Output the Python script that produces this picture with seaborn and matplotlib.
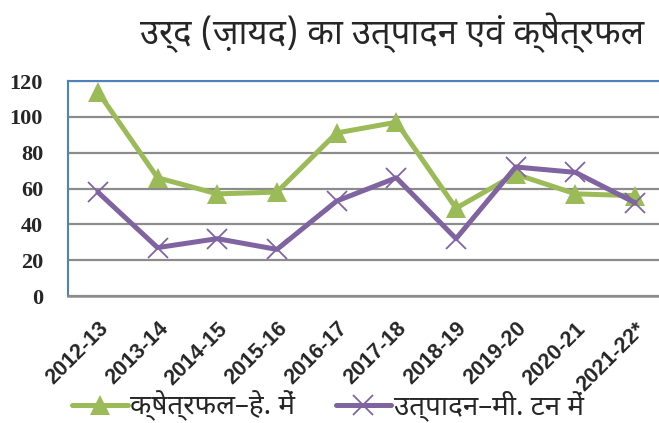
import matplotlib
matplotlib.use("Agg")
import matplotlib.pyplot as plt
from matplotlib import font_manager
from matplotlib.ft2font import FT2Font
from matplotlib.transforms import ScaledTranslation
import pandas as pd
import seaborn as sns

# values
YEARS = ["2012-13", "2013-14", "2014-15", "2015-16", "2016-17",
         "2017-18", "2018-19", "2019-20", "2020-21", "2021-22*"]
AREA = [114, 66, 57, 58, 91, 97, 49, 68, 57, 56]   # क्षेत्रफल (हे.)
PROD = [58, 27, 32, 26, 53, 66, 32, 72, 69, 52]    # उत्पादन (मी. टन)
Y_TICKS = [0, 20, 40, 60, 80, 100, 120]

TITLE = "उर्द (ज़ायद) का उत्पादन एवं क्षेत्रफल"
AREA_LABEL = "क्षेत्रफल–हे. में"
PROD_LABEL = "उत्पादन–मी. टन में"

GREEN = "#9BBB59"
PURPLE = "#8064A2"
BLUE = "#4F81BD"
GRID = "#8C8C8C"

W, H = 659, 423


def pick_devanagari_font():
    found = []
    for f in font_manager.fontManager.ttflist:
        try:
            cmap = FT2Font(f.fname).get_charmap()
        except Exception:
            continue
        if 0x0915 in cmap:
            found.append(f.name)
    for name in ["Noto Sans Devanagari", "Hind", "Mukta", "Lohit Devanagari",
                 "Poppins", "Kalam"]:
        if name in found:
            return [name]
    return sorted(set(found))[:1]


def fit_size(fig, text, family, target_px, ref=20):
    # font size that gives the text the width it has in the reference
    t = fig.text(0, 0, text, fontsize=ref, family=family)
    w = t.get_window_extent(renderer=fig.canvas.get_renderer()).width
    t.remove()
    return ref * target_px / w


sns.set_theme(style="white")
hindi_family = pick_devanagari_font() + ["DejaVu Sans"]

df = pd.DataFrame({"pos": range(len(YEARS)), "area": AREA, "prod": PROD})

fig = plt.figure(figsize=(W / 100, H / 100), dpi=100)
ax = fig.add_axes([68 / W, 1 - 296 / H, 597 / W, 215 / H])

sns.lineplot(data=df, x="pos", y="area", ax=ax, color=GREEN, lw=3.6,
             marker="^", markersize=15, markeredgewidth=0, label=AREA_LABEL)
sns.lineplot(data=df, x="pos", y="prod", ax=ax, color=PURPLE, lw=3.6,
             marker="x", markersize=14, markeredgewidth=1.3,
             markeredgecolor=PURPLE, label=PROD_LABEL)

ax.set_xlim(-0.5, len(YEARS) - 0.5)
ax.set_ylim(0, 120)
ax.set_yticks(Y_TICKS)
ax.set_yticklabels([str(v) for v in Y_TICKS], fontfamily="Liberation Serif",
                   fontweight="bold", fontsize=16)
ax.set_xticks(range(len(YEARS)))
ax.set_xticklabels(YEARS, rotation=45, ha="right", rotation_mode="anchor",
                   fontfamily="Liberation Sans", fontweight="bold", fontsize=15.5)
shift = ScaledTranslation(-4 / 100, 0, fig.dpi_scale_trans)
for lab in ax.get_xticklabels():
    lab.set_transform(lab.get_transform() + shift)
ax.tick_params(axis="x", length=0, pad=16)
ax.tick_params(axis="y", length=0, pad=18)
ax.set_xlabel("")
ax.set_ylabel("")

ax.grid(axis="y", color=GRID, lw=1.6)
ax.grid(axis="x", visible=False)
ax.set_axisbelow(True)
for side in ["left", "top"]:
    ax.spines[side].set_color(BLUE)
    ax.spines[side].set_linewidth(1.5)
ax.spines["right"].set_visible(False)
ax.spines["bottom"].set_color(GRID)
ax.spines["bottom"].set_linewidth(1.8)

ax.get_legend().remove()
handles, labels = ax.get_legend_handles_labels()
leg_fs = fit_size(fig, AREA_LABEL, hindi_family, 165)
fig.legend(handles, labels, loc="lower left", ncol=2,
           bbox_to_anchor=(72 / W, 0.004), frameon=False,
           borderpad=0, borderaxespad=0,
           prop={"family": hindi_family, "size": leg_fs},
           handlelength=40 / leg_fs, handletextpad=2 / leg_fs,
           columnspacing=29 / leg_fs)

title_fs = fit_size(fig, TITLE, hindi_family, 505)
fig.text(392 / W, 1 - 33 / H, TITLE, ha="center", va="center",
         fontsize=title_fs, family=hindi_family)

fig.savefig("out.png", dpi=100)
